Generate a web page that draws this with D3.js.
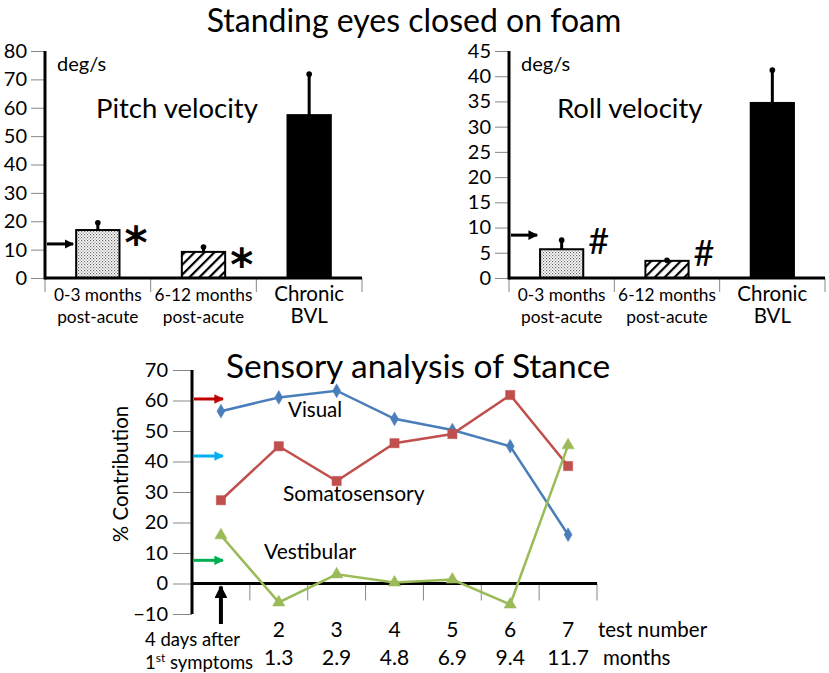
<!DOCTYPE html>
<html>
<head>
<meta charset="utf-8">
<script src="https://cdn.jsdelivr.net/npm/d3@7"></script>
<style>
  body { margin: 0; background: #fff; }
  svg text { font-family: Lato, "Open Sans", sans-serif; fill: #000; }
</style>
</head>
<body>
<div id="chart"></div>
<script>
/* data */
var groups = ["0-3 months|post-acute", "6-12 months|post-acute", "Chronic|BVL"]
var pitchMean = [16.9, 9.2, 57.4]
var pitchErr = [19.8, 11.3, 72.2]
var pitchNormal = 12
var rollMean = [5.7, 3.4, 34.7]
var rollErr = [7.7, 3.7, 41.4]
var rollNormal = 8.5
var pitchTicks = [0, 10, 20, 30, 40, 50, 60, 70, 80]
var rollTicks = [0, 5, 10, 15, 20, 25, 30, 35, 40, 45]
var barMarks = ["*", "*", ""]
var rollMarks = ["#", "#", ""]

var tests = ["1", "2", "3", "4", "5", "6", "7"]
var months = ["", "1.3", "2.9", "4.8", "6.9", "9.4", "11.7"]
var visual = [56.5, 61, 63.2, 54, 50.3, 45, 16]
var somato = [27.3, 45, 33.6, 46, 49, 61.8, 38.5]
var vestib = [15.8, -6.2, 3, 0.3, 1.3, -6.9, 45.3]
var normalLevels = [60.5, 41.8, 7.6] // visual, somato, vestibular reference arrows
var stanceTicks = [-10, 0, 10, 20, 30, 40, 50, 60, 70]

var colors = {
  visual: "#4a7ebb",
  somato: "#c0504d",
  vestib: "#9bbb59",
  arrowRed: "#c00000",
  arrowBlue: "#00b0f0",
  arrowGreen: "#00b050"
}

var svg = d3.select("#chart").append("svg")
  .attr("width", 829)
  .attr("height", 673)

/* patterns + arrow heads */
var defs = svg.append("defs")

var dots = defs.append("pattern")
  .attr("id", "dots")
  .attr("patternUnits", "userSpaceOnUse")
  .attr("width", 3).attr("height", 3)
dots.append("rect").attr("width", 3).attr("height", 3).attr("fill", "#fff")
dots.append("rect").attr("width", 1.2).attr("height", 1.2).attr("fill", "#666")
dots.append("rect").attr("x", 1.5).attr("y", 1.5).attr("width", 1.2).attr("height", 1.2).attr("fill", "#888")

var hatch = defs.append("pattern")
  .attr("id", "hatch")
  .attr("patternUnits", "userSpaceOnUse")
  .attr("width", 7).attr("height", 7)
  .attr("patternTransform", "rotate(45)")
hatch.append("rect").attr("width", 7).attr("height", 7).attr("fill", "#fff")
hatch.append("rect").attr("width", 2.2).attr("height", 7).attr("fill", "#000")

function arrowHead(id, color) {
  defs.append("marker")
    .attr("id", id)
    .attr("viewBox", "0 0 10 10")
    .attr("refX", 9).attr("refY", 5)
    .attr("markerWidth", 3.2).attr("markerHeight", 3.2)
    .attr("orient", "auto")
    .append("path")
    .attr("d", "M0,0 L10,5 L0,10 z")
    .attr("fill", color)
}
arrowHead("ahBlack", "#000")
arrowHead("ahRed", colors.arrowRed)
arrowHead("ahBlue", colors.arrowBlue)
arrowHead("ahGreen", colors.arrowGreen)

var fills = ["url(#dots)", "url(#hatch)", "#000"]

/* title */
svg.append("text")
  .text("Standing eyes closed on foam")
  .attr("x", 414).attr("y", 32)
  .attr("text-anchor", "middle")
  .style("font-size", "32px")

/* bar panel builder */
function barPanel(opt) {
  var g = svg.append("g")
  var y = d3.scaleLinear().domain([0, opt.max]).range([opt.y0, opt.y1])
  var x = d3.scaleBand().domain(groups).range([opt.x0, opt.x1]).paddingInner(0).paddingOuter(0)
  var bw = x.bandwidth() * 0.41

  var yAxis = g.append("g")
    .attr("transform", "translate(" + opt.x0 + ",0)")
    .call(d3.axisLeft(y).tickValues(opt.ticks).tickSize(14).tickPadding(4))
  yAxis.select(".domain").remove()
  yAxis.selectAll(".tick line").attr("stroke", "#888")
  yAxis.selectAll(".tick text").style("font-size", "20px").attr("fill", "#000")

  var xAxis = g.append("g")
    .attr("transform", "translate(0," + opt.y0 + ")")
    .call(d3.axisBottom(x).tickSize(0).tickFormat(""))
  xAxis.select(".domain").remove()
  g.selectAll(".catTick").data(d3.range(groups.length + 1)).enter()
    .append("line")
    .attr("class", "catTick")
    .attr("x1", function(d) { return opt.x0 + d * x.step() })
    .attr("x2", function(d) { return opt.x0 + d * x.step() })
    .attr("y1", opt.y0).attr("y2", opt.y0 + 14)
    .attr("stroke", "#888")

  g.selectAll(".bar").data(opt.mean).enter()
    .append("rect")
    .attr("class", "bar")
    .attr("x", function(d, i) { return x(groups[i]) + (x.bandwidth() - bw) / 2 })
    .attr("width", bw)
    .attr("y", function(d) { return y(d) })
    .attr("height", function(d) { return y(0) - y(d) })
    .attr("fill", function(d, i) { return fills[i] })
    .attr("stroke", "#000")
    .attr("stroke-width", 2)

  g.selectAll(".err").data(opt.err).enter()
    .append("line")
    .attr("x1", function(d, i) { return x(groups[i]) + x.bandwidth() / 2 })
    .attr("x2", function(d, i) { return x(groups[i]) + x.bandwidth() / 2 })
    .attr("y1", function(d, i) { return y(opt.mean[i]) })
    .attr("y2", function(d) { return y(d) })
    .attr("stroke", "#000")
    .attr("stroke-width", 3)
  g.selectAll(".cap").data(opt.err).enter()
    .append("circle")
    .attr("cx", function(d, i) { return x(groups[i]) + x.bandwidth() / 2 })
    .attr("cy", function(d) { return y(d) + 1 })
    .attr("r", 2.8)
    .attr("fill", "#000")

  // axis lines (thick)
  g.append("line")
    .attr("x1", opt.x0).attr("x2", opt.x0)
    .attr("y1", opt.y1).attr("y2", opt.y0 + 1.5)
    .attr("stroke", "#000").attr("stroke-width", 3)
  g.append("line")
    .attr("x1", opt.x0).attr("x2", opt.x1)
    .attr("y1", opt.y0).attr("y2", opt.y0)
    .attr("stroke", "#000").attr("stroke-width", 3)

  // category labels
  g.selectAll(".catLab").data(groups).enter()
    .append("text")
    .attr("text-anchor", "middle")
    .attr("x", function(d) { return x(d) + x.bandwidth() / 2 })
    .attr("y", opt.y0 + 23)
    .style("font-size", function(d, i) { return i == 2 ? "20.5px" : "17.3px" })
    .each(function(d) {
      var parts = d.split("|")
      d3.select(this).append("tspan").attr("x", d3.select(this).attr("x")).text(parts[0])
      d3.select(this).append("tspan").attr("x", d3.select(this).attr("x")).attr("dy", 22).text(parts[1])
    })

  // significance marks
  g.selectAll(".sig").data(opt.marks).enter()
    .append("text")
    .text(function(d) { return d })
    .attr("x", function(d, i) { return x(groups[i]) + (x.bandwidth() + bw) / 2 + 5 })
    .attr("y", function(d, i) { return y(opt.mean[i]) + opt.markDy })
    .style("font-family", opt.markFont)
    .style("font-size", opt.markSize)
    .style("font-weight", opt.markWeight)

  // normal level arrow
  g.append("line")
    .attr("x1", opt.x0 + 2)
    .attr("x2", x(groups[0]) + (x.bandwidth() - bw) / 2 - 3)
    .attr("y1", y(opt.normal)).attr("y2", y(opt.normal))
    .attr("stroke", "#000").attr("stroke-width", 3)
    .attr("marker-end", "url(#ahBlack)")

  g.append("text").text("deg/s")
    .attr("x", opt.x0 + 12).attr("y", 71)
    .style("font-size", "20px")
  g.append("text").text(opt.title)
    .attr("x", opt.titleX).attr("y", 118)
    .style("font-size", "27.5px")
}

barPanel({
  x0: 45, x1: 362, y0: 278, y1: 51, max: 80, ticks: pitchTicks,
  mean: pitchMean, err: pitchErr, normal: pitchNormal, marks: barMarks,
  markDy: 28, markSize: "44px", markWeight: "bold", markFont: "DejaVu Sans",
  title: "Pitch velocity", titleX: 96
})
barPanel({
  x0: 509, x1: 825, y0: 278, y1: 51, max: 45, ticks: rollTicks,
  mean: rollMean, err: rollErr, normal: rollNormal, marks: rollMarks,
  markDy: 5, markSize: "36px", markWeight: "normal", markFont: "Lato",
  title: "Roll velocity", titleX: 557
})

/* bottom chart: sensory analysis */
var st = { x0: 192, x1: 597, y0: 614, y1: 370 }
var sx = d3.scaleBand().domain(tests).range([st.x0, st.x1])
var sy = d3.scaleLinear().domain([-10, 70]).range([st.y0, st.y1])
var cx = function(d, i) { return sx(tests[i]) + sx.bandwidth() / 2 }

svg.append("text")
  .text("Sensory analysis of Stance")
  .attr("x", 418).attr("y", 378)
  .attr("text-anchor", "middle")
  .style("font-size", "33.5px")

var sAxis = svg.append("g")
  .attr("transform", "translate(" + st.x0 + ",0)")
  .call(d3.axisLeft(sy).tickValues(stanceTicks).tickSize(19).tickPadding(5))
sAxis.select(".domain").remove()
sAxis.selectAll(".tick line").attr("stroke", "#888")
sAxis.selectAll(".tick text").style("font-size", "20px").attr("fill", "#000")

svg.selectAll(".testTick").data(d3.range(tests.length + 1)).enter()
  .append("line")
  .attr("x1", function(d) { return st.x0 + d * sx.step() })
  .attr("x2", function(d) { return st.x0 + d * sx.step() })
  .attr("y1", sy(0)).attr("y2", sy(0) + 17)
  .attr("stroke", "#888")

svg.append("line")
  .attr("x1", st.x0).attr("x2", st.x0)
  .attr("y1", st.y1).attr("y2", st.y0)
  .attr("stroke", "#000").attr("stroke-width", 3)
svg.append("line")
  .attr("x1", st.x0).attr("x2", st.x1)
  .attr("y1", sy(0)).attr("y2", sy(0))
  .attr("stroke", "#000").attr("stroke-width", 3)

svg.append("text")
  .text("% Contribution")
  .attr("transform", "translate(128,474) rotate(-90)")
  .attr("text-anchor", "middle")
  .style("font-size", "20.5px")

var line = d3.line().x(cx).y(function(d) { return sy(d) })

function series(data, color, shape, size) {
  svg.append("path")
    .datum(data)
    .attr("d", line)
    .attr("fill", "none")
    .attr("stroke", color)
    .attr("stroke-width", 2.5)
  svg.selectAll(".pt-" + color.slice(1)).data(data).enter()
    .append("path")
    .attr("d", d3.symbol().type(shape).size(size))
    .attr("transform", function(d, i) { return "translate(" + cx(d, i) + "," + sy(d) + ")" })
    .attr("fill", color)
    .attr("stroke", color)
    .attr("stroke-opacity", 0.5)
}
series(visual, colors.visual, d3.symbolDiamond, 55)
series(somato, colors.somato, d3.symbolSquare, 85)
series(vestib, colors.vestib, d3.symbolTriangle, 65)

svg.append("text").text("Visual").attr("x", 288).attr("y", 417).style("font-size", "20.5px")
svg.append("text").text("Somatosensory").attr("x", 283).attr("y", 501).style("font-size", "21px")
svg.append("text").text("Vestibular").attr("x", 264).attr("y", 559).style("font-size", "21px")

// reference arrows on the y axis
var arrowColors = ["ahRed", "ahBlue", "ahGreen"]
var arrowStroke = [colors.arrowRed, colors.arrowBlue, colors.arrowGreen]
svg.selectAll(".refArrow").data(normalLevels).enter()
  .append("line")
  .attr("x1", st.x0 + 2).attr("x2", st.x0 + 31)
  .attr("y1", function(d) { return sy(d) }).attr("y2", function(d) { return sy(d) })
  .attr("stroke", function(d, i) { return arrowStroke[i] })
  .attr("stroke-width", 3)
  .attr("marker-end", function(d, i) { return "url(#" + arrowColors[i] + ")" })

// onset arrow
svg.append("line")
  .attr("x1", cx(0, 0)).attr("x2", cx(0, 0))
  .attr("y1", 624).attr("y2", sy(0) + 3)
  .attr("stroke", "#000").attr("stroke-width", 4)
  .attr("marker-end", "url(#ahBlack)")

// x labels
svg.selectAll(".testLab").data(tests.slice(1)).enter()
  .append("text")
  .text(function(d) { return d })
  .attr("x", function(d, i) { return cx(d, i + 1) })
  .attr("y", 637)
  .attr("text-anchor", "middle")
  .style("font-size", "21px")
svg.selectAll(".monthLab").data(months.slice(1)).enter()
  .append("text")
  .text(function(d) { return d })
  .attr("x", function(d, i) { return cx(d, i + 1) })
  .attr("y", 665)
  .attr("text-anchor", "middle")
  .style("font-size", "21px")
svg.append("text").text("test number").attr("x", 598).attr("y", 637).style("font-size", "20.5px")
svg.append("text").text("months").attr("x", 603).attr("y", 665).style("font-size", "20.5px")

var onset = svg.append("text").attr("x", 145).attr("y", 646).style("font-size", "18.5px")
onset.append("tspan").text("4 days after")
var l2 = svg.append("text").attr("x", 145).attr("y", 669).style("font-size", "18.5px")
l2.append("tspan").text("1")
l2.append("tspan").text("st").attr("dy", -7).style("font-size", "12px")
l2.append("tspan").text(" symptoms").attr("dy", 7)
</script>
</body>
</html>
